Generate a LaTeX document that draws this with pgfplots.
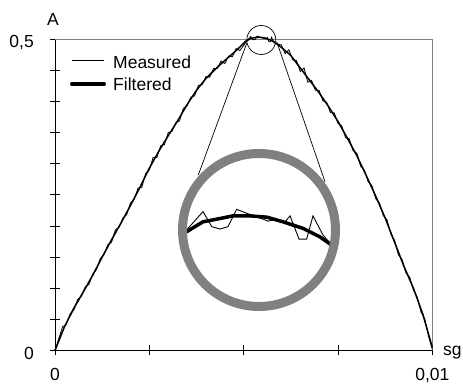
\documentclass[border=0pt]{standalone}
\usepackage{pgfplots}
\pgfplotsset{compat=1.18}
\usepackage{pgfplotstable}
\usepackage{fontspec}
\setmainfont{Liberation Sans}

\pgfplotstableread{
t v
0 0.000
0.0001 0.019
0.0002 0.038
0.0003 0.042
0.0004 0.059
0.0005 0.065
0.0006 0.082
0.0007 0.087
0.0008 0.102
0.0009 0.106
0.0010 0.123
0.0011 0.130
0.0012 0.148
0.0013 0.154
0.0014 0.170
0.0015 0.174
0.0016 0.194
0.0017 0.198
0.0018 0.213
0.0019 0.218
0.0020 0.237
0.0021 0.243
0.0022 0.261
0.0023 0.262
0.0024 0.284
0.0025 0.290
0.0026 0.310
0.0027 0.310
0.0028 0.329
0.0029 0.331
0.0030 0.350
0.0031 0.352
0.0032 0.366
0.0033 0.369
0.0034 0.389
0.0035 0.393
0.0036 0.407
0.0037 0.409
0.0038 0.426
0.0039 0.427
0.0040 0.440
0.0041 0.439
0.0042 0.453
0.0043 0.453
0.0044 0.465
0.0045 0.461
0.0046 0.473
0.0047 0.472
0.0048 0.485
0.0049 0.482
0.0050 0.490
0.005097 0.4984
0.005187 0.5045
0.005231 0.4999
0.005272 0.4992
0.005312 0.4999
0.005356 0.5052
0.005406 0.5040
0.005488 0.5022
0.005513 0.5016
0.005557 0.5022
0.005599 0.5014
0.005624 0.5032
0.005669 0.4961
0.005707 0.4961
0.005739 0.5032
0.005789 0.4974
0.005833 0.4943
0.0059 0.4925
0.0060 0.491
0.0061 0.477
0.0062 0.483
0.0063 0.467
0.0064 0.466
0.0065 0.448
0.0066 0.454
0.0067 0.431
0.0068 0.434
0.0069 0.418
0.0070 0.418
0.0071 0.401
0.0072 0.399
0.0073 0.382
0.0074 0.382
0.0075 0.365
0.0076 0.361
0.0077 0.342
0.0078 0.340
0.0079 0.321
0.0080 0.317
0.0081 0.296
0.0082 0.290
0.0083 0.271
0.0084 0.265
0.0085 0.244
0.0086 0.237
0.0087 0.217
0.0088 0.210
0.0089 0.187
0.0090 0.177
0.0091 0.154
0.0092 0.146
0.0093 0.125
0.0094 0.118
0.0095 0.097
0.0096 0.086
0.0097 0.062
0.0098 0.051
0.0099 0.023
0.0100 0.002
}\measured

\pgfplotstableread{
t v
0 0.000
0.00025 0.038
0.0005 0.068
0.00075 0.094
0.001 0.121
0.00125 0.150
0.0015 0.178
0.00175 0.205
0.002 0.233
0.00225 0.262
0.0025 0.293
0.00275 0.320
0.003 0.345
0.00325 0.369
0.0035 0.395
0.00375 0.418
0.004 0.437
0.00425 0.452
0.0045 0.466
0.00475 0.479
0.005 0.4935
0.005046 0.4968
0.005097 0.4981
0.005187 0.5014
0.005256 0.5022
0.005337 0.5032
0.005423 0.5032
0.005507 0.5028
0.005588 0.5014
0.005689 0.4994
0.005774 0.4968
0.005833 0.4943
0.0059 0.4916
0.006 0.487
0.00625 0.474
0.0065 0.454
0.00675 0.434
0.007 0.414
0.00725 0.392
0.0075 0.368
0.00775 0.341
0.008 0.313
0.00825 0.281
0.0085 0.248
0.00875 0.213
0.009 0.174
0.00925 0.135
0.0095 0.100
0.00975 0.058
0.01 0.005
}\filtered

\begin{document}
\fontsize{17.5}{21}\selectfont
\begin{tikzpicture}
\useasboundingbox (0pt,0pt) rectangle (463pt,385pt);
\begin{axis}[
  at={(55pt,34.5pt)}, anchor=south west,
  scale only axis, width=377.3pt, height=311.2pt,
  xmin=0, xmax=0.01, ymin=0, ymax=0.5,
  axis lines=left, axis line style={-, black, line width=0.9pt},
  clip=false, scaled ticks=false,
  xtick={0,0.0025,0.005,0.0075,0.01},
  xticklabels={0,,,,{0,01}},
  ytick={0,0.05,0.1,0.15,0.2,0.25,0.3,0.35,0.4,0.45,0.5},
  yticklabels={0,,,,,,,,,,{0,5}},
  tick align=center, major tick length=10pt,
  tick style={black, line width=0.9pt},
  xticklabel style={anchor=north, inner sep=0pt, yshift=-13pt},
  yticklabel style={anchor=east, inner sep=0pt, xshift=-16pt, yshift=-3pt},
]
\draw[gray, line width=0.8pt] (rel axis cs:0,1) -- (rel axis cs:1,1) -- (rel axis cs:1,0);
\addplot[black, line width=0.8pt] table[x=t, y=v] {\measured};
\addplot[black, line width=1.5pt] table[x=t, y=v] {\filtered};
\end{axis}

\begin{scope}
\clip (259pt,155pt) circle (76pt);
\begin{axis}[
  at={(259pt,155pt)}, anchor=center,
  scale only axis, width=160pt, height=160pt,
  xmin=0.0050664, xmax=0.0058696, ymin=0.47455, ymax=0.52325,
  hide axis, clip=false,
]
\addplot[black, line width=0.9pt] table[x=t, y=v] {\measured};
\addplot[black, line width=3.5pt] table[x=t, y=v] {\filtered};
\end{axis}
\end{scope}

\draw[gray, line width=9pt] (259pt,155pt) circle (76.5pt);
\draw[black, line width=0.7pt] (261.3pt,345pt) circle (14.5pt);
\draw[black, line width=0.7pt] (246.7pt,341.7pt) -- (198.3pt,210pt);
\draw[black, line width=0.7pt] (276.7pt,343.3pt) -- (325pt,203.3pt);

\draw[black, line width=1pt] (72pt,324pt) -- (104pt,324pt);
\draw[black, line width=4pt, line cap=round] (72pt,300.7pt) -- (104pt,300.7pt);
\node[anchor=base west, inner sep=0pt] at (113pt,316pt) {Measured};
\node[anchor=base west, inner sep=0pt] at (113pt,294pt) {Filtered};

\node[anchor=base, inner sep=0pt] at (53pt,359pt) {A};
\node[anchor=base west, inner sep=0pt] at (443pt,29pt) {sg};
\end{tikzpicture}
\end{document}
